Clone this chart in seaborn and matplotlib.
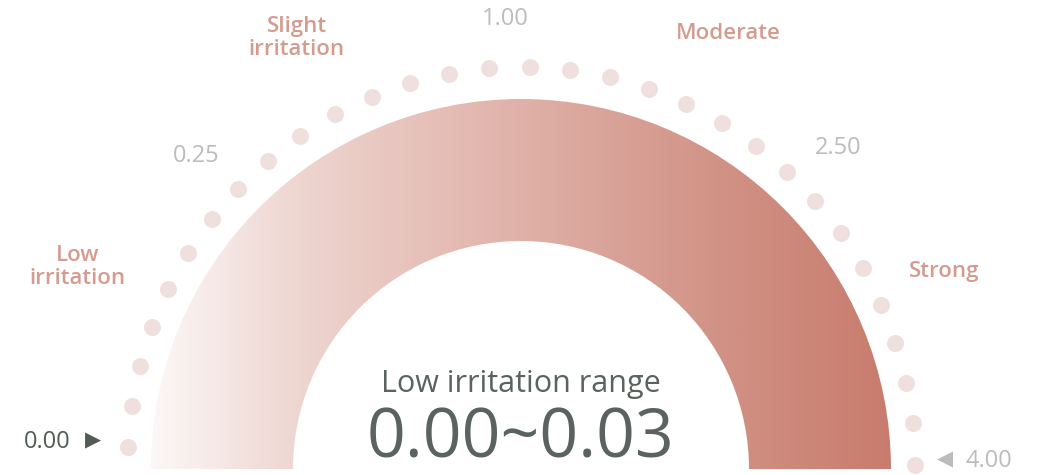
import numpy as np
import matplotlib.pyplot as plt
import seaborn as sns
from matplotlib.patches import Wedge

# Gauge scale and categories
scale_ticks = [0.00, 0.25, 1.00, 2.50, 4.00]
tick_labels = ['0.00', '0.25', '1.00', '2.50', '4.00']
categories = ['Low\nirritation', 'Slight\nirritation', 'Moderate', 'Strong']
range_title = 'Low irritation range'
range_low = 0.00
range_high = 0.03
n_dots = 31

# gradient colours of the band (left -> right)
band_colors = ['#fcf8f7', '#eed5d0', '#e5bdb5', '#daa59b', '#d08f82', '#c87c6d']

sns.set_theme(style='white')
plt.rcParams['font.family'] = ['Open Sans', 'DejaVu Sans']

W, H = 1038, 475
fig = plt.figure(figsize=(W / 100, H / 100), dpi=100)
ax = fig.add_axes([0, 0, 1, 1])
ax.set_xlim(0, W)
ax.set_ylim(0, H)
ax.set_axis_off()

cx, cy = 521, 6        # gauge centre (data coords, y up)
r_out, r_in = 370, 228

# gradient band clipped to a half ring
cmap = sns.blend_palette(band_colors, as_cmap=True)
grad = np.linspace(0, 1, 512).reshape(1, -1)
img = ax.imshow(grad, cmap=cmap, aspect='auto', origin='lower',
                extent=[cx - r_out, cx + r_out, cy, cy + r_out], zorder=1)
ring = Wedge((cx, cy), r_out, 0, 180, width=r_out - r_in,
             facecolor='none', edgecolor='none', transform=ax.transData)
ax.add_patch(ring)
img.set_clip_path(ring)

# dotted outer ring
theta = np.radians(np.linspace(0.5, 177, n_dots))
dot_x = cx + 394 * np.cos(theta)
dot_y = cy + 1 + 401 * np.sin(theta)
sns.scatterplot(x=dot_x, y=dot_y, s=150, color='#f0e0dd', linewidth=0,
                ax=ax, zorder=2, legend=False)

# tick labels around the gauge (middle ticks)
tick_angles = [136, 92, 45.5]
for lab, ang in zip(tick_labels[1:-1], tick_angles):
    a = np.radians(ang)
    ax.text(cx + 452 * np.cos(a), cy + 450 * np.sin(a), lab,
            ha='center', va='center', fontsize=17, color='#bcbcbc')

# end labels with arrows
ax.text(24, 33, tick_labels[0], ha='left', va='center',
        fontsize=17, color='#525c55')
ax.text(101, 34, '\u25B6', ha='right', va='center',
        fontsize=15, color='#525c55')
ax.text(937, 15, '\u25C0', ha='left', va='center',
        fontsize=15, color='#bcbcbc')
ax.text(1012, 14, tick_labels[-1], ha='right', va='center',
        fontsize=17, color='#bcbcbc')

# category labels
cat_angles = [155.5, 117.5, 64.5, 25]
cat_r = [487, 486, 482, 467]
for lab, ang, rr in zip(categories, cat_angles, cat_r):
    a = np.radians(ang)
    ax.text(cx + rr * np.cos(a), cy + rr * np.sin(a), lab,
            ha='center', va='center', fontsize=16, color='#d49b8f',
            linespacing=1.15, fontweight='semibold')

# centre readout
ax.text(cx, 91, range_title, ha='center', va='center',
        fontsize=22, color='#5a635d')
ax.text(cx, 35, f'{range_low:.2f}~{range_high:.2f}', ha='center', va='center',
        fontsize=49, color='#5a635d')

fig.savefig('out.png', dpi=100)
